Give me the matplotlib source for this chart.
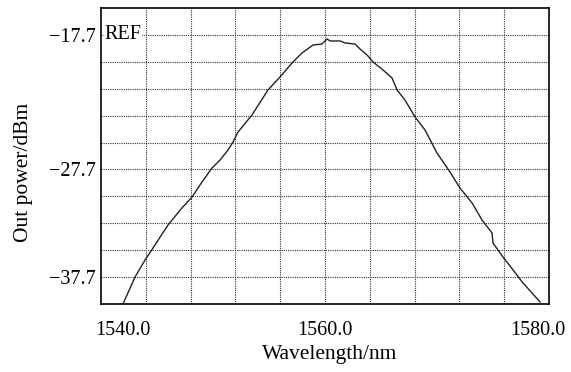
import matplotlib
matplotlib.use("Agg")
import matplotlib.pyplot as plt
import matplotlib.transforms as mtransforms

plt.rcParams['font.family'] = ['Liberation Serif', 'DejaVu Serif']
plt.rcParams['font.size'] = 14.5

# spectrum
wavelength = [1541.96, 1543.04, 1543.93, 1544.64, 1545.98, 1547.23, 1548.13, 1548.84,
              1549.91, 1550.63, 1551.34, 1551.79, 1552.23, 1553.48, 1554.91, 1555.98,
              1557.05, 1557.95, 1558.93, 1559.73, 1560.18, 1560.45, 1561.34, 1561.79,
              1562.68, 1563.13, 1563.75, 1564.29, 1565.18, 1565.98, 1566.43, 1567.14,
              1568.04, 1568.93, 1570.00, 1571.16, 1572.05, 1573.13, 1574.02, 1574.91,
              1575.00, 1575.89, 1576.79, 1577.68, 1578.48, 1579.20]
power = [-37.70, -35.69, -34.43, -33.54, -31.83, -30.56, -29.75, -28.85,
         -27.59, -27.00, -26.25, -25.66, -24.92, -23.65, -21.79, -20.83,
         -19.79, -19.04, -18.45, -18.38, -18.00, -18.15, -18.15, -18.30,
         -18.38, -18.75, -19.19, -19.71, -20.31, -20.90, -21.79, -22.54,
         -23.80, -24.77, -26.48, -27.89, -29.08, -30.19, -31.46, -32.42,
         -33.17, -34.21, -35.17, -36.14, -36.88, -37.55]

x_ticks = [1540, 1560, 1580]
x_labels = ['1540.0', '1560.0', '1580.0']
y_ticks = [-17.7, -27.7, -35.7]
y_labels = ['\u221217.7', '\u221227.7', '\u221237.7']

fig = plt.figure(figsize=(5.71, 3.72), dpi=100)
ax = fig.add_axes([0.1769, 0.1828, 0.7846, 0.7957])

ax.plot(wavelength, power, color='#222222', lw=1.0)

ax.set_xlim(1540, 1580)
ax.set_ylim(-37.7, -15.7)

# grid: 4 nm / div, 2 dB / div
for i in range(1, 10):
    ax.axvline(1540 + 4 * i, color='#333333', lw=0.8, ls=(0, (1, 1)), zorder=0)
for i in range(1, 11):
    ax.axhline(-15.7 - 2 * i, color='#333333', lw=0.8, ls=(0, (1, 1)), zorder=0)

ax.set_xticks(x_ticks)
ax.set_xticklabels(x_labels)
ax.set_yticks(y_ticks)
ax.set_yticklabels(y_labels)
ax.tick_params(axis='x', length=0, pad=12)
ax.tick_params(axis='y', length=0, pad=4)

xl = ax.get_xticklabels()
xl[0].set_transform(xl[0].get_transform() + mtransforms.ScaledTranslation(0.215, 0, fig.dpi_scale_trans))
xl[2].set_transform(xl[2].get_transform() + mtransforms.ScaledTranslation(-0.11, 0, fig.dpi_scale_trans))

for s in ax.spines.values():
    s.set_linewidth(1.2)
    s.set_color('black')

ax.text(1540.3, -17.7, 'REF', ha='left', va='center',
        bbox=dict(facecolor='white', edgecolor='none', pad=0.5))

ax.set_xlabel('Wavelength/nm', fontsize=15.5)
ax.set_ylabel('Out power/dBm', fontsize=15.5)
ax.xaxis.set_label_coords(0.511, -0.137)
ax.yaxis.set_label_coords(-0.152, 0.446)

fig.savefig('out.png', dpi=100)
